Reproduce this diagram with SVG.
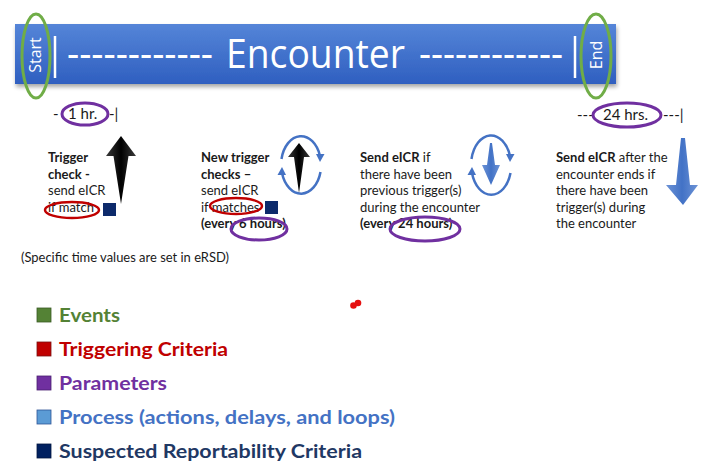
<svg xmlns="http://www.w3.org/2000/svg" width="714" height="476" viewBox="0 0 714 476">
<defs>
<linearGradient id="band" x1="0" y1="0" x2="0" y2="1">
<stop offset="0" stop-color="#5585d8"/>
<stop offset="1" stop-color="#2f5fc0"/>
</linearGradient>
<linearGradient id="blk" x1="0" y1="0" x2="1" y2="0">
<stop offset="0" stop-color="#3a3a3a"/>
<stop offset="0.5" stop-color="#000"/>
<stop offset="1" stop-color="#3a3a3a"/>
</linearGradient>
<linearGradient id="blu" x1="0" y1="0" x2="1" y2="0">
<stop offset="0" stop-color="#6d93d6"/>
<stop offset="0.5" stop-color="#4272c6"/>
<stop offset="1" stop-color="#6d93d6"/>
</linearGradient>
<filter id="sh" x="-5%" y="-20%" width="110%" height="150%">
<feGaussianBlur in="SourceAlpha" stdDeviation="2"/>
<feOffset dx="1" dy="3"/>
<feComponentTransfer><feFuncA type="linear" slope="0.35"/></feComponentTransfer>
<feMerge><feMergeNode/><feMergeNode in="SourceGraphic"/></feMerge>
</filter>
</defs>
<style>
.t{font-family:Lato,"Liberation Sans",sans-serif;font-size:13px;fill:#1a1a1a}
.p{font-family:Lato,"Liberation Sans",sans-serif;font-size:15px;fill:#1a1a1a}
.b{font-weight:bold}
.w{font-family:"Open Sans","Liberation Sans",sans-serif;fill:#fff}
.lg{font-family:Lato,"Liberation Sans",sans-serif;font-size:19px;font-weight:bold}
.gr{fill:none;stroke:#70ad47;stroke-width:3}
.pu{fill:none;stroke:#7030a0;stroke-width:3}
.rd{fill:none;stroke:#c00000;stroke-width:2.5}
.loop{fill:none;stroke:#4472c4;stroke-width:2.5}
.lh{fill:#4472c4}
.sq{fill:#0d2a6b}
.bar{stroke:#fff;stroke-width:2.5}
</style>

<g id="banner">
<rect x="15" y="24" width="601" height="60" fill="url(#band)" filter="url(#sh)"/>
<line class="bar" x1="55" y1="36" x2="55" y2="78"/>
<text class="w" x="67" y="67" font-size="40" textLength="146" lengthAdjust="spacingAndGlyphs">------------</text>
<text class="w" x="226" y="68" font-size="40" textLength="179" lengthAdjust="spacingAndGlyphs">Encounter</text>
<text class="w" x="419" y="67" font-size="40" textLength="144" lengthAdjust="spacingAndGlyphs">------------</text>
<line class="bar" x1="575" y1="36" x2="575" y2="78"/>
<text class="w" font-size="16" text-anchor="middle" dominant-baseline="central" transform="translate(35,55) rotate(-90)">Start</text>
<text class="w" font-size="16" text-anchor="middle" dominant-baseline="central" transform="translate(596,55) rotate(-90)">End</text>
</g>

<g id="start-marker"><ellipse class="gr" cx="36" cy="56" rx="14" ry="42"/></g>
<g id="end-marker"><ellipse class="gr" cx="596" cy="56" rx="15" ry="42"/></g>

<g id="param-1hr">
<text class="p" x="53" y="119">-</text>
<text class="p" x="68" y="119">1 hr.</text>
<text class="p" x="109" y="119">-|</text>
<ellipse class="pu" cx="85" cy="114" rx="23" ry="11"/>
</g>

<g id="param-24hrs">
<text class="p" x="577" y="120">---</text>
<text class="p" x="603" y="120">24 hrs.</text>
<text class="p" x="663" y="120">---|</text>
<ellipse class="pu" cx="627" cy="115" rx="34" ry="12"/>
</g>

<g id="step-1">
<text class="t"><tspan class="b" x="48" y="162">Trigger</tspan><tspan class="b" x="48" y="178.6">check -</tspan><tspan x="48" y="195.2">send eICR</tspan><tspan x="48" y="211.8">if match</tspan></text>
<ellipse class="rd" cx="72" cy="210" rx="27" ry="8"/>
<rect class="sq" x="103" y="203" width="13" height="13"/>
<polygon fill="url(#blk)" points="121,136 136,156 128.5,156 121,204 113.5,156 106,156"/>
</g>

<g id="step-2">
<text class="t"><tspan class="b" x="201" y="162">New trigger</tspan><tspan class="b" x="201" y="178.6">checks –</tspan><tspan x="201" y="195.2">send eICR</tspan><tspan x="201" y="211.8">if matches</tspan><tspan class="b" x="201" y="228.4">(every 6 hours)</tspan></text>
<ellipse class="rd" cx="236" cy="206" rx="26" ry="8"/>
<rect class="sq" x="265" y="201" width="13" height="13"/>
<ellipse class="pu" cx="259" cy="229" rx="28" ry="11"/>
<polygon fill="url(#blk)" points="299,143 310,157 304,157 299,193 294,157 288,157"/>
<path class="loop" d="M281.5 159 A20 29 0 0 1 320 156"/>
<polygon class="lh" points="316,154 324.5,154 320,162"/>
<path class="loop" d="M320.5 172 A20 29 0 0 1 282 173"/>
<polygon class="lh" points="277.5,175 286,175 282,167"/>
</g>

<g id="step-3">
<text class="t"><tspan class="b" x="360" y="162">Send eICR</tspan><tspan> if</tspan><tspan x="360" y="178.6">there have been</tspan><tspan x="360" y="195.2">previous trigger(s)</tspan><tspan x="360" y="211.8">during the encounter</tspan><tspan class="b" x="360" y="228.4">(every 24 hours)</tspan></text>
<ellipse class="pu" cx="425" cy="229" rx="35" ry="12"/>
<polygon fill="url(#blu)" points="490,143 492,143 495,165 500,165 491,185 482,165 487,165"/>
<path class="loop" d="M471.5 159 A20 30 0 0 1 510 156"/>
<polygon class="lh" points="506,154 514.5,154 510,162"/>
<path class="loop" d="M510.5 173 A20 30 0 0 1 472 173"/>
<polygon class="lh" points="467.5,175 476,175 472,167"/>
</g>

<g id="step-4">
<text class="t"><tspan class="b" x="556" y="162">Send eICR</tspan><tspan> after the</tspan><tspan x="556" y="178.6">encounter ends if</tspan><tspan x="556" y="195.2">there have been</tspan><tspan x="556" y="211.8">trigger(s) during</tspan><tspan x="556" y="228.4">the encounter</tspan></text>
<polygon fill="url(#blu)" points="681,138 685,138 690,185 698,185 683,205 666,185 676,185"/>
</g>

<g id="note">
<text class="t" x="21" y="262" textLength="208" lengthAdjust="spacingAndGlyphs">(Specific time values are set in eRSD)</text>
</g>

<g id="red-dot">
<circle cx="353.5" cy="305.5" r="3.3" fill="#e51010"/>
<circle cx="358" cy="303" r="3.3" fill="#e51010"/>
</g>

<g id="legend">
<rect x="37" y="308" width="14" height="14" fill="#548235" stroke="#3a5a25" stroke-width="0.8"/>
<text class="lg" x="59" y="322" fill="#548235" textLength="61" lengthAdjust="spacingAndGlyphs">Events</text>
<rect x="37" y="342" width="14" height="14" fill="#c00000" stroke="#7a1010" stroke-width="0.8"/>
<text class="lg" x="59" y="356" fill="#c00000" textLength="169" lengthAdjust="spacingAndGlyphs">Triggering Criteria</text>
<rect x="37" y="376" width="14" height="14" fill="#7030a0" stroke="#4a2070" stroke-width="0.8"/>
<text class="lg" x="59" y="390" fill="#7030a0" textLength="108" lengthAdjust="spacingAndGlyphs">Parameters</text>
<rect x="37" y="410" width="14" height="14" fill="#5b9bd5" stroke="#2f5597" stroke-width="0.8"/>
<text class="lg" x="59" y="424" fill="#4472c4" textLength="336" lengthAdjust="spacingAndGlyphs">Process (actions, delays, and loops)</text>
<rect x="37" y="444" width="14" height="14" fill="#002060" stroke="#001540" stroke-width="0.8"/>
<text class="lg" x="59" y="458" fill="#1f3864" textLength="303" lengthAdjust="spacingAndGlyphs">Suspected Reportability Criteria</text>
</g>
</svg>
